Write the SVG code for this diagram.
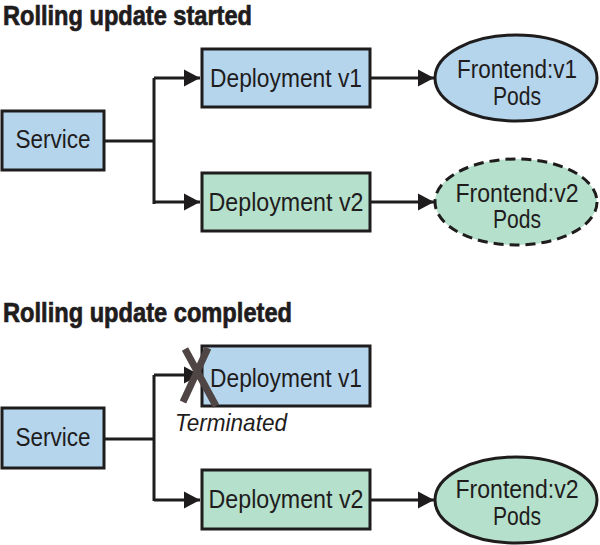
<svg xmlns="http://www.w3.org/2000/svg" width="600" height="545" viewBox="0 0 600 545">
<style>
  .blue{fill:#b4d5ec;stroke:#1f1c1d;stroke-width:3}
  .green{fill:#b5e0cb;stroke:#1f1c1d;stroke-width:3}
  .lbl{font-family:"Liberation Sans",Arial,sans-serif;font-size:25px;fill:#1f1c1d;text-anchor:middle}
  .title{font-family:"Liberation Sans",Arial,sans-serif;font-size:27px;font-weight:bold;fill:#1f1c1d;stroke:#1f1c1d;stroke-width:0.7}
  .conn{fill:none;stroke:#1f1c1d;stroke-width:3}
</style>
<defs>
  <marker id="arr" markerUnits="userSpaceOnUse" markerWidth="18" markerHeight="18" refX="16" refY="9" orient="auto">
    <path d="M0,0.5 L16,9 L0,17.5 Z" fill="#1f1c1d"/>
  </marker>
</defs>
<rect width="600" height="545" fill="#ffffff"/>

<text class="title" x="3" y="25" textLength="249" lengthAdjust="spacingAndGlyphs">Rolling update started</text>
<text class="title" x="3" y="322" textLength="289" lengthAdjust="spacingAndGlyphs">Rolling update completed</text>

<g id="connectors">
  <path class="conn" d="M104,141 H154 M154,78 V204 M154,78 H200" marker-end="url(#arr)"/>
  <path class="conn" d="M154,202 H200" marker-end="url(#arr)"/>
  <path class="conn" d="M370,78 H434" marker-end="url(#arr)"/>
  <path class="conn" d="M370,202 H434" marker-end="url(#arr)"/>
  <path class="conn" d="M104,439 H154 M154,375 V501"/>
  <path class="conn" d="M154,375 H200" marker-end="url(#arr)"/>
  <path class="conn" d="M154,500 H200" marker-end="url(#arr)"/>
  <path class="conn" d="M370,500 H434" marker-end="url(#arr)"/>
</g>

<g id="service1">
  <rect class="blue" x="2" y="111" width="102" height="59"/>
  <text class="lbl" x="53" y="148" textLength="75" lengthAdjust="spacingAndGlyphs">Service</text>
</g>
<g id="deploy1-v1">
  <rect class="blue" x="202" y="49" width="168" height="58"/>
  <text class="lbl" x="286" y="87" textLength="152" lengthAdjust="spacingAndGlyphs">Deployment v1</text>
</g>
<g id="deploy1-v2">
  <rect class="green" x="202" y="173" width="168" height="58"/>
  <text class="lbl" x="286" y="211" textLength="155" lengthAdjust="spacingAndGlyphs">Deployment v2</text>
</g>
<g id="pods1-v1">
  <ellipse class="blue" cx="516" cy="78" rx="81" ry="43"/>
  <text class="lbl" x="517" y="78" textLength="120" lengthAdjust="spacingAndGlyphs">Frontend:v1</text>
  <text class="lbl" x="517" y="105" textLength="48" lengthAdjust="spacingAndGlyphs">Pods</text>
</g>
<g id="pods1-v2">
  <ellipse class="green" cx="516" cy="202" rx="81" ry="43" stroke-dasharray="10,6"/>
  <text class="lbl" x="517" y="202" textLength="123" lengthAdjust="spacingAndGlyphs">Frontend:v2</text>
  <text class="lbl" x="517" y="228" textLength="48" lengthAdjust="spacingAndGlyphs">Pods</text>
</g>

<g id="service2">
  <rect class="blue" x="2" y="408" width="102" height="60"/>
  <text class="lbl" x="53" y="446" textLength="75" lengthAdjust="spacingAndGlyphs">Service</text>
</g>
<g id="deploy2-v1">
  <rect class="blue" x="202" y="346" width="168" height="60"/>
  <text class="lbl" x="286" y="387" textLength="152" lengthAdjust="spacingAndGlyphs">Deployment v1</text>
</g>
<g id="terminated">
  <path d="M185,349 L216,406 M208,348 L183,402" stroke="#4f4545" stroke-width="7" fill="none"/>
  <text x="175" y="431" font-family="'Liberation Sans',Arial,sans-serif" font-size="24" font-style="italic" fill="#1f1c1d" textLength="112" lengthAdjust="spacingAndGlyphs">Terminated</text>
</g>
<g id="deploy2-v2">
  <rect class="green" x="202" y="470" width="168" height="59"/>
  <text class="lbl" x="286" y="508" textLength="155" lengthAdjust="spacingAndGlyphs">Deployment v2</text>
</g>
<g id="pods2-v2">
  <ellipse class="green" cx="516" cy="500" rx="81" ry="43"/>
  <text class="lbl" x="517" y="498" textLength="123" lengthAdjust="spacingAndGlyphs">Frontend:v2</text>
  <text class="lbl" x="517" y="525" textLength="48" lengthAdjust="spacingAndGlyphs">Pods</text>
</g>
</svg>
